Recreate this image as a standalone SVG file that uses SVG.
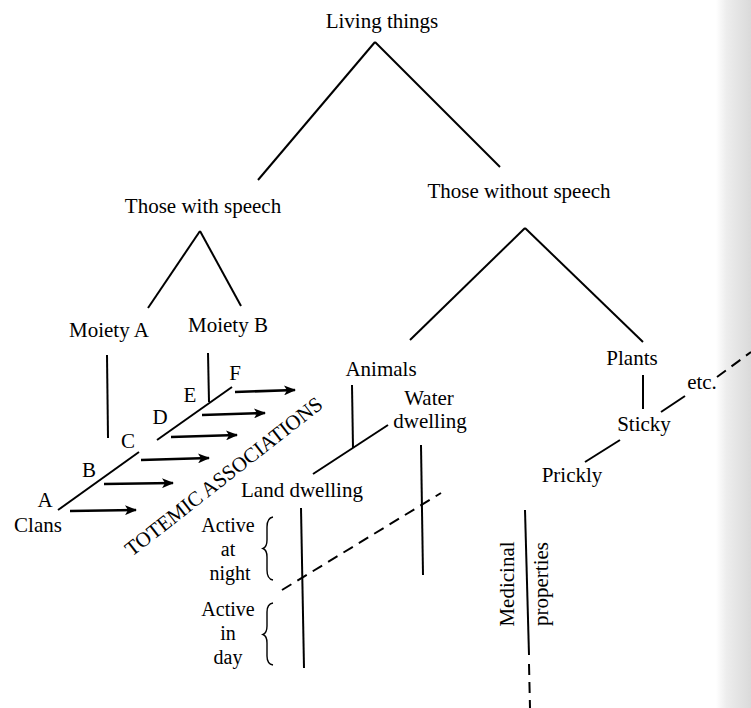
<svg xmlns="http://www.w3.org/2000/svg" width="751" height="708" viewBox="0 0 751 708">
<defs>
<linearGradient id="scan" x1="0" y1="0" x2="1" y2="0">
<stop offset="0" stop-color="#ffffff"/>
<stop offset="0.3" stop-color="#ededed"/>
<stop offset="1" stop-color="#dadada"/>
</linearGradient>
<marker id="ah" viewBox="0 0 12 10" refX="11" refY="5" markerWidth="12" markerHeight="10" markerUnits="userSpaceOnUse" orient="auto">
<path d="M0,0 L12,5 L0,10 L3,5 Z" fill="#000"/>
</marker>
<style>
text{font-family:"Liberation Serif","Times New Roman",serif;font-size:21px;fill:#000}
.c{text-anchor:middle}
.ln{stroke:#000;stroke-width:2;fill:none;stroke-linecap:butt}
.ds{stroke:#000;stroke-width:2;fill:none;stroke-dasharray:11 7}
.ar{stroke:#000;stroke-width:2.6;fill:none;marker-end:url(#ah)}
.br{stroke:#000;stroke-width:1.4;fill:none}
.s{font-size:20px}
</style>
</defs>
<rect width="751" height="708" fill="#fff"/>
<rect x="716" y="0" width="35" height="708" fill="url(#scan)"/>

<g id="connectors">
<line class="ln" x1="375" y1="42" x2="258" y2="180"/>
<line class="ln" x1="375" y1="42" x2="500" y2="167"/>
<line class="ln" x1="200" y1="231" x2="148" y2="308"/>
<line class="ln" x1="200" y1="231" x2="241" y2="306"/>
<line class="ln" x1="525" y1="228" x2="410" y2="340"/>
<line class="ln" x1="525" y1="228" x2="643" y2="342"/>
<line class="ln" x1="107" y1="355" x2="108" y2="438"/>
<line class="ln" x1="208" y1="353" x2="209" y2="402"/>
<line class="ln" x1="58" y1="510" x2="139" y2="452"/>
<line class="ln" x1="157" y1="440" x2="232" y2="387"/>
<line class="ar" x1="70" y1="511" x2="136" y2="510"/>
<line class="ar" x1="104" y1="484" x2="173" y2="483"/>
<line class="ar" x1="141" y1="460" x2="209" y2="458"/>
<line class="ar" x1="171" y1="437" x2="237" y2="435"/>
<line class="ar" x1="202" y1="415" x2="265" y2="413"/>
<line class="ar" x1="235" y1="392" x2="295" y2="390"/>
<line class="ln" x1="352" y1="385" x2="353" y2="448"/>
<line class="ln" x1="313" y1="474" x2="388" y2="425"/>
<line class="ln" x1="421" y1="445" x2="423" y2="575"/>
<line class="ln" x1="301" y1="508" x2="304" y2="668"/>
<line class="ds" x1="282" y1="590" x2="441" y2="493"/>
<line class="ln" x1="643" y1="375" x2="643" y2="409"/>
<line class="ln" x1="661" y1="412" x2="685" y2="396"/>
<line class="ds" x1="717" y1="377" x2="751" y2="352"/>
<line class="ln" x1="620" y1="440" x2="585" y2="462"/>
<line class="ln" x1="525" y1="510" x2="529" y2="655"/>
<line class="ds" x1="529" y1="664" x2="530" y2="708"/>
<path class="br" d="M273,517 Q267,518 267,527 L267,540 Q267,547 263,548.5 Q267,550 267,557 L267,570 Q267,579 273,580"/>
<path class="br" d="M273,603 Q267,604 267,612 L267,626 Q267,633 263,634.5 Q267,636 267,643 L267,656 Q267,664 273,665"/>
</g>

<g id="living-things"><text class="c" x="382" y="28">Living things</text></g>
<g id="with-speech"><text class="c" x="203" y="213">Those with speech</text></g>
<g id="without-speech"><text class="c" x="519" y="198">Those without speech</text></g>
<g id="moiety-a"><text class="c" x="109" y="337">Moiety A</text></g>
<g id="moiety-b"><text class="c" x="228" y="332">Moiety B</text></g>
<g id="clan-a"><text class="c" x="45" y="507">A</text></g>
<g id="clan-b"><text class="c" x="89" y="477">B</text></g>
<g id="clan-c"><text class="c" x="128" y="448">C</text></g>
<g id="clan-d"><text class="c" x="160" y="424">D</text></g>
<g id="clan-e"><text class="c" x="190" y="402">E</text></g>
<g id="clan-f"><text class="c" x="235" y="380">F</text></g>
<g id="clans"><text class="c" x="38" y="532">Clans</text></g>
<g id="totemic"><text class="c" transform="translate(228,482) rotate(-38)" x="0" y="0" textLength="244" lengthAdjust="spacingAndGlyphs">TOTEMIC ASSOCIATIONS</text></g>
<g id="animals"><text class="c" x="381" y="376">Animals</text></g>
<g id="water-dwelling"><text class="c" x="429" y="405">Water</text><text class="c" x="430" y="428">dwelling</text></g>
<g id="land-dwelling"><text class="c" x="302" y="497">Land dwelling</text></g>
<g id="active-night"><text class="c s" x="228" y="532">Active</text><text class="c s" x="228" y="556">at</text><text class="c s" x="230" y="580">night</text></g>
<g id="active-day"><text class="c s" x="228" y="616">Active</text><text class="c s" x="228" y="640">in</text><text class="c s" x="228" y="664">day</text></g>
<g id="plants"><text class="c" x="632" y="365">Plants</text></g>
<g id="sticky"><text class="c" x="644" y="431">Sticky</text></g>
<g id="etc"><text class="c" x="702" y="389">etc.</text></g>
<g id="prickly"><text class="c" x="572" y="482">Prickly</text></g>
<g id="medicinal-properties">
<text class="c" transform="translate(514,584) rotate(-90)">Medicinal</text>
<text class="c" transform="translate(548,584) rotate(-90)">properties</text>
</g>
</svg>
